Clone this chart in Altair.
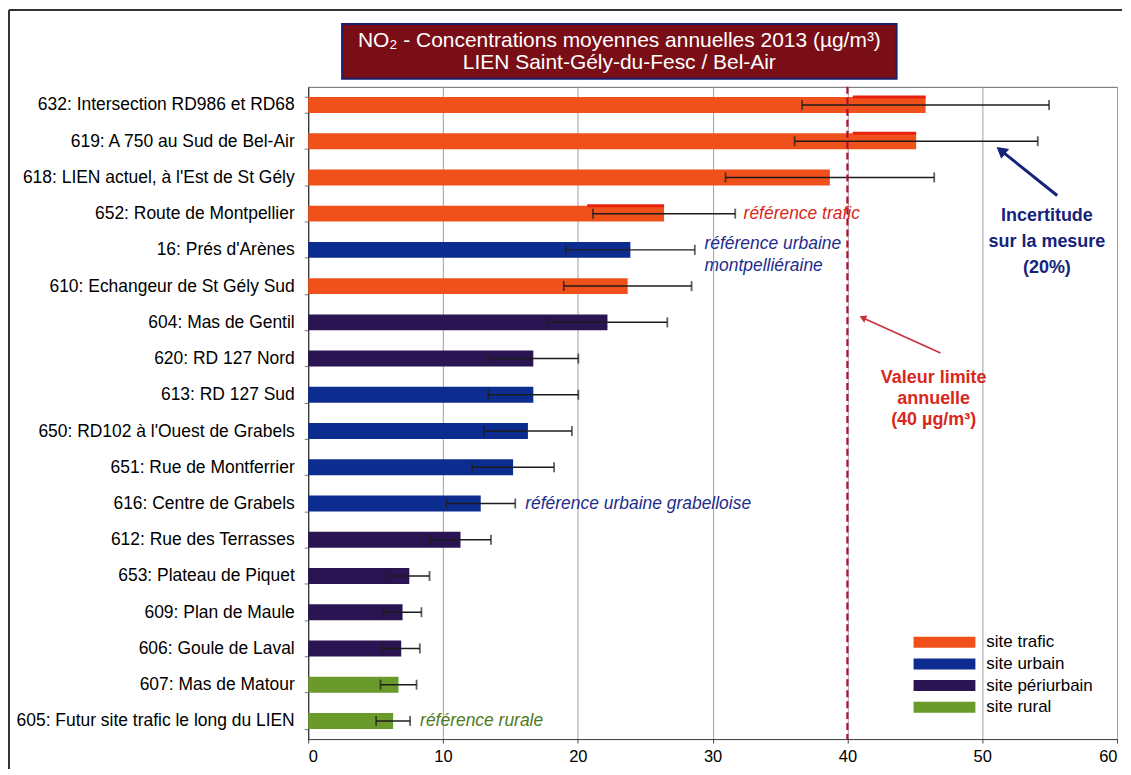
import altair as alt
import pandas as pd

# ---------------- data ----------------
sites = [
    "632: Intersection RD986 et RD68",
    "619: A 750 au Sud de Bel-Air",
    "618: LIEN actuel, à l'Est de St Gély",
    "652: Route de Montpellier",
    "16: Prés d'Arènes",
    "610: Echangeur de St Gély Sud",
    "604: Mas de Gentil",
    "620: RD 127 Nord",
    "613: RD 127 Sud",
    "650: RD102 à l'Ouest de Grabels",
    "651: Rue de Montferrier",
    "616: Centre de Grabels",
    "612: Rue des Terrasses",
    "653: Plateau de Piquet",
    "609: Plan de Maule",
    "606: Goule de Laval",
    "607: Mas de Matour",
    "605: Futur site trafic le long du LIEN",
]
values = [45.8, 45.1, 38.7, 26.4, 23.9, 23.7, 22.2, 16.7, 16.7, 16.3,
          15.2, 12.8, 11.3, 7.5, 7.0, 6.9, 6.7, 6.3]
types = ["site trafic", "site trafic", "site trafic", "site trafic",
         "site urbain", "site trafic", "site périurbain", "site périurbain",
         "site urbain", "site urbain", "site urbain", "site urbain",
         "site périurbain", "site périurbain", "site périurbain", "site périurbain",
         "site rural", "site rural"]
legend_types = ["site trafic", "site urbain", "site périurbain", "site rural"]
legend_colors = ["#F0501A", "#0C2D8F", "#2A1552", "#6A9A2C"]
uncertainty = 0.20
limit = [40]
x_ticks = [0, 10, 20, 30, 40, 50, 60]
# red highlight strokes drawn on top of some bars
hl_sites = [sites[0], sites[1], sites[3]]
hl_start = [40.4, 40.4, 20.7]
hl_end = [45.8, 45.1, 26.4]
title_lines = ["NO₂ - Concentrations moyennes annuelles 2013 (µg/m³)",
               "LIEN Saint-Gély-du-Fesc / Bel-Air"]

# ---------------- layout ----------------
W, H = 811, 654
FONT = "Liberation Sans"
NAVY = "#13237A"
RED = "#D8281C"

df = pd.DataFrame({"site": sites, "value": values, "type": types})

x_scale = alt.Scale(domain=[0, 60], nice=False)
X_AXIS = alt.Axis(values=x_ticks, format="d")


def xq(field):
    return alt.X(field, scale=x_scale, title=None, axis=X_AXIS)


y_enc = alt.Y("site:N", sort=sites, title=None,
              scale=alt.Scale(paddingInner=0.56, paddingOuter=0.28))

base = alt.Chart(df)
bars = base.mark_bar().encode(
    x=xq("value:Q"),
    y=y_enc,
    color=alt.Color("type:N", scale=alt.Scale(domain=legend_types, range=legend_colors),
                    legend=None),
)
highlight = alt.Chart(pd.DataFrame({"site": hl_sites, "s": hl_start, "e": hl_end})).mark_rule(
    color="#E8200F", strokeWidth=3, yOffset=-8
).encode(x=xq("s:Q"), x2="e:Q", y=y_enc)

err = base.transform_calculate(
    lo=f"datum.value*(1-{uncertainty})", hi=f"datum.value*(1+{uncertainty})"
)
err_rule = err.mark_rule(color="#1c1c1c", strokeWidth=1.5).encode(
    x=xq("lo:Q"), x2="hi:Q", y=y_enc)
cap_lo = err.mark_tick(color="#1c1c1c", thickness=1.8, size=10).encode(x=xq("lo:Q"), y=y_enc)
cap_hi = err.mark_tick(color="#1c1c1c", thickness=1.8, size=10).encode(x=xq("hi:Q"), y=y_enc)

limit_rule = alt.Chart(pd.DataFrame({"limit": limit})).mark_rule(
    color="#B01030", strokeWidth=2.2, strokeDash=[7, 4]
).encode(x=xq("limit:Q"))

layers = [bars, highlight, err_rule, cap_lo, cap_hi, limit_rule]

# row annotations (italic)
row_notes = [
    ("référence trafic", 32.3, sites[3], RED, 0),
    ("référence urbaine\nmontpelliéraine", 29.4, sites[4], "#1E2C8C", -6),
    ("référence urbaine grabelloise", 16.1, sites[11], "#1E2C8C", 0),
    ("référence rurale", 8.3, sites[17], "#4E7A22", 0),
]
for txt, xv, s, c, dy in row_notes:
    layers.append(
        alt.Chart(pd.DataFrame({"t": [txt], "x": [xv], "site": [s]})).mark_text(
            align="left", baseline="middle", fontStyle="italic", fontSize=17.5,
            color=c, dy=dy, lineBreak="\n", lineHeight=22, font=FONT
        ).encode(x=xq("x:Q"), y=y_enc, text="t:N")
    )

# bold callouts (y = first line)
callouts = [
    ("Incertitude\nsur la mesure\n(20%)", 54.8, 130, NAVY, 26),
    ("Valeur limite\nannuelle\n(40 µg/m³)", 46.4, 292, RED, 21),
]
for txt, xv, py, c, lh in callouts:
    layers.append(
        alt.Chart(pd.DataFrame({"t": [txt], "x": [xv]})).mark_text(
            align="center", baseline="middle", fontWeight="bold", fontSize=18,
            color=c, lineBreak="\n", lineHeight=lh, font=FONT
        ).encode(x=xq("x:Q"), y=alt.value(py), text="t:N")
    )

# arrows
one = pd.DataFrame({"a": [0]})
arrows = [
    (751, 109, 696, 65, NAVY, 3, 308.9, 160),
    (634, 267, 557, 232, "#C83040", 1.6, 294.2, 60),
]
for x1, y1, x2, y2, c, w, ang, sz in arrows:
    layers.append(alt.Chart(one).mark_rule(color=c, strokeWidth=w).encode(
        x=alt.value(x1), x2=alt.value(x2), y=alt.value(y1), y2=alt.value(y2)))
    layers.append(alt.Chart(one).mark_point(
        shape="triangle", filled=True, opacity=1, color=c, angle=ang, size=sz
    ).encode(x=alt.value(x2), y=alt.value(y2)))

# title box
layers.append(alt.Chart(one).mark_rect(
    fill="#7A0E16", stroke="#1B1F6E", strokeWidth=2
).encode(x=alt.value(34), x2=alt.value(590), y=alt.value(-63), y2=alt.value(-8)))
for i, line in enumerate(title_lines):
    layers.append(alt.Chart(pd.DataFrame({"t": [line]})).mark_text(
        align="center", baseline="middle", fontSize=21,
        color="white", font=FONT
    ).encode(x=alt.value(312), y=alt.value(-46 + 22 * i), text="t:N"))

# manual legend
for i, (lt, lc) in enumerate(zip(legend_types, legend_colors)):
    cy = 557 + 21.7 * i
    layers.append(alt.Chart(one).mark_rect(color=lc).encode(
        x=alt.value(607), x2=alt.value(669), y=alt.value(cy - 5.5), y2=alt.value(cy + 5.5)))
    layers.append(alt.Chart(pd.DataFrame({"t": [lt]})).mark_text(
        align="left", baseline="middle", fontSize=17, color="black", font=FONT
    ).encode(x=alt.value(680), y=alt.value(cy), text="t:N"))

# outer frame (left and top edges)
layers.append(alt.Chart(one).mark_rule(color="#333333", strokeWidth=2).encode(
    x=alt.value(-300), y=alt.value(-77), y2=alt.value(684)))
layers.append(alt.Chart(one).mark_rule(color="#333333", strokeWidth=2).encode(
    x=alt.value(-300), x2=alt.value(816), y=alt.value(-77)))

chart = alt.layer(*layers).properties(
    width=W, height=H, padding=0
).configure(font=FONT).configure_view(
    stroke="#666666", strokeWidth=1
).configure_axisX(
    grid=True, gridColor="#a0a0a0", gridWidth=1, labelFontSize=16.5, labelColor="black",
    labelFont=FONT, tickSize=4, tickColor="#444", domainColor="#444", labelPadding=6,
).configure_axisY(
    grid=False, labelFontSize=17.5, labelColor="black", labelFont=FONT, tickBand="extent",
    tickSize=4, tickColor="#777", domainColor="#222", labelPadding=10, labelLimit=400,
)

chart.save("out.html", embed_options={"renderer": "svg", "actions": False})
